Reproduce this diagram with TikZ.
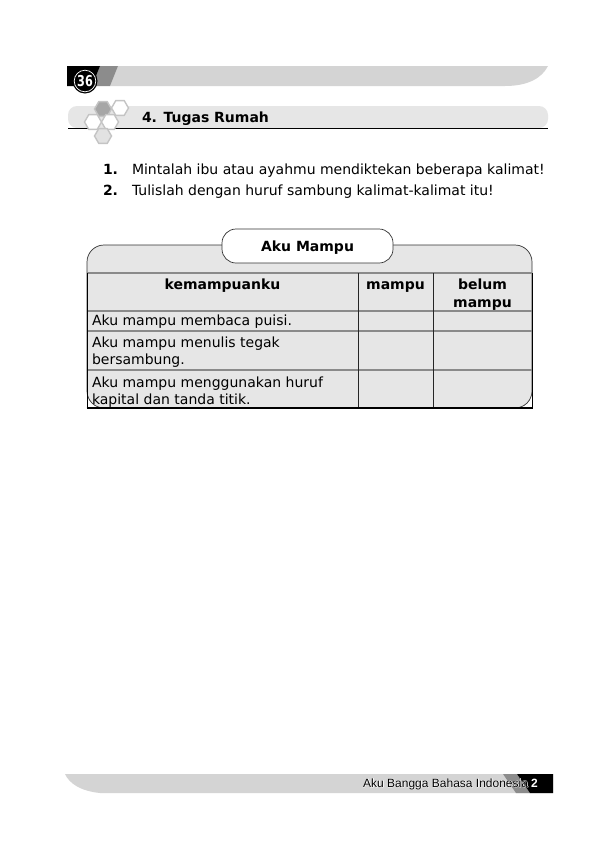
\documentclass[tikz,border=0pt]{standalone}
\usepackage{fontspec}
\setmainfont{DejaVu Sans}
\newfontfamily\arialf{Liberation Sans}
\newfontfamily\arialhalo[FakeBold=5]{Liberation Sans}
\usetikzlibrary{shapes.geometric}
\definecolor{bandgray}{HTML}{D4D4D4}
\definecolor{stripegray}{HTML}{8C8C8C}
\definecolor{boxgray}{HTML}{E6E6E6}
\definecolor{linegray}{HTML}{8A8A8A}
\definecolor{hexline}{HTML}{C4C4C4}
\definecolor{hexdark}{HTML}{A6A6A6}
\definecolor{hexlight}{HTML}{E2E2E2}
\begin{document}
\begin{tikzpicture}[x=1pt,y=-1pt,
  txt/.style={inner sep=0pt, outer sep=0pt, font=\fontsize{14}{17}\selectfont},
  boldtxt/.style={inner sep=0pt, outer sep=0pt, font=\fontsize{14}{17}\selectfont\bfseries},
  foottxt/.style={inner sep=0pt, outer sep=0pt, font=\arialf\fontsize{12}{14}\selectfont},
  hexa/.style={regular polygon, regular polygon sides=6, minimum size=17pt, inner sep=0pt, draw=hexline, line width=1.4pt, fill=white},
  hline/.style={draw=linegray, line width=1.1pt},
  vline/.style={draw=black!85, line width=0.7pt}]
\useasboundingbox[fill=white] (0,0) rectangle (613,860);

% top band
\fill[bandgray] (118,66) -- (548,66) .. controls (542,78) and (528,86) .. (505,86) -- (110,86) -- cycle;
\fill[stripegray] (100,66) -- (118,66) -- (110,86) -- (92,86) -- cycle;
\fill[black] (67,66) -- (100,66) -- (92,86) -- (67,86) -- cycle;
\node[circle, fill=black, minimum size=25pt, inner sep=0pt] (pg) at (85,81) {};
\draw[white, line width=0.7pt] (pg.center) circle (10.8);
\node[inner sep=0pt, text=white, font=\fontsize{15}{16}\selectfont\bfseries, xscale=0.75] (pgnum) at (85,81) {36};

% section header
\fill[boxgray, rounded corners=9pt] (68,106) rectangle (548,128);
\draw[black, line width=1.8pt] (68,128.5) -- (548,128.5);
\node[hexa] (hx1) at (120,108) {};
\node[hexa, fill=hexdark] (hx2) at (103,109) {};
\node[hexa] (hx3) at (93,122) {};
\node[hexa] (hx4) at (110,122) {};
\node[hexa, fill=hexlight] (hx5) at (103,136) {};
\node[boldtxt, anchor=base west] (head) at (142,122) {4. Tugas Rumah};

% list
\node[boldtxt, anchor=base west] (n1) at (103,174) {1.};
\node[txt, anchor=base west] (l1) at (132,174) {Mintalah ibu atau ayahmu mendiktekan beberapa kalimat!};
\node[boldtxt, anchor=base west] (n2) at (103,195) {2.};
\node[txt, anchor=base west] (l2) at (132,195) {Tulislah dengan huruf sambung kalimat-kalimat itu!};

% table box
\filldraw[fill=boxgray, draw=black!80, line width=0.7pt, rounded corners=17pt] (87,245) rectangle (532,408);
\draw[hline] (87,273) -- (532,273);
\draw[hline] (87,311) -- (532,311);
\draw[hline] (87,331) -- (532,331);
\draw[hline] (87,370) -- (532,370);
\draw[vline] (358,273) -- (358,408);
\draw[vline] (433,273) -- (433,408);
\draw[black, line width=0.9pt] (87,273) -- (87,408);
\draw[black, line width=0.9pt] (532,273) -- (532,408);
\draw[black, line width=1.8pt] (86.5,408) -- (532.5,408);

% tab
\node[draw=black!80, fill=white, rounded corners=14pt, line width=0.7pt, minimum width=171pt, minimum height=34pt, inner sep=0pt] (tab) at (307.5,246) {};
\node[boldtxt, anchor=base] (tabtxt) at (307.5,251) {Aku Mampu};

% header
\node[boldtxt, anchor=base] (h1) at (222.5,289) {kemampuanku};
\node[boldtxt, anchor=base] (h2) at (395.5,289) {mampu};
\node[boldtxt, anchor=base] (h3a) at (482.5,289) {belum};
\node[boldtxt, anchor=base] (h3b) at (482.5,307) {mampu};

% rows
\node[txt, anchor=base west] (r1) at (92,325) {Aku mampu membaca puisi.};
\node[txt, anchor=base west] (r2a) at (92,347) {Aku mampu menulis tegak};
\node[txt, anchor=base west] (r2b) at (92,364) {bersambung.};
\node[txt, anchor=base west] (r3a) at (92,387) {Aku mampu menggunakan huruf};
\node[txt, anchor=base west] (r3b) at (92,404) {kapital dan tanda titik.};

% footer band
\fill[bandgray] (65,774) -- (553,774) -- (553,793) -- (100,793) .. controls (80,791) and (69,783) .. (65,774) -- cycle;
\fill[stripegray] (503,774) -- (517,774) -- (530,793) -- (516,793) -- cycle;
\fill[black] (517,774) -- (553,774) -- (553,793) -- (530,793) -- cycle;
\node[inner sep=0pt, outer sep=0pt, font=\arialhalo\fontsize{12}{14}\selectfont, anchor=base east, text=white] (foothalo) at (528.2,787) {Aku Bangga Bahasa Indonesia};
\node[foottxt, anchor=base east] (foot) at (528,787) {Aku Bangga Bahasa Indonesia};
\node[foottxt, anchor=base west, text=white, font=\arialf\fontsize{12}{14}\selectfont\bfseries] (footnum) at (531,787) {2};
\end{tikzpicture}
\end{document}
